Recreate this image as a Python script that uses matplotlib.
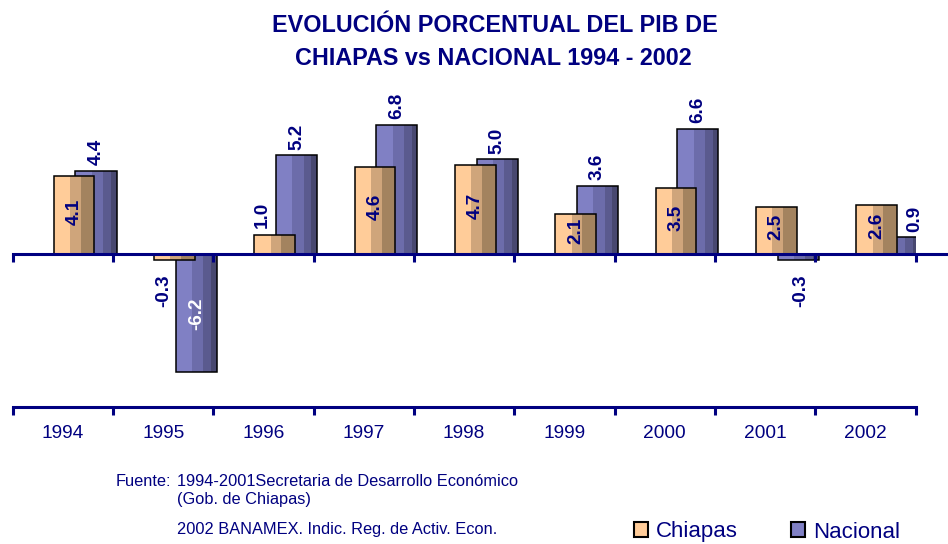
import numpy as np
import matplotlib
matplotlib.use("Agg")
import matplotlib.pyplot as plt
from matplotlib.patches import Patch

# ---- data ----
years = ['1994', '1995', '1996', '1997', '1998', '1999', '2000', '2001', '2002']
chiapas = [4.1, -0.3, 1.0, 4.6, 4.7, 2.1, 3.5, 2.5, 2.6]
nacional = [4.4, -6.2, 5.2, 6.8, 5.0, 3.6, 6.6, -0.3, 0.9]
series_names = ['Chiapas', 'Nacional']
title_lines = ['EVOLUCIÓN PORCENTUAL DEL PIB DE', 'CHIAPAS vs NACIONAL 1994 - 2002']
source_lines = ['1994-2001Secretaria de Desarrollo Económico',
                '(Gob. de Chiapas)',
                '2002 BANAMEX. Indic. Reg. de Activ. Econ.']

NAVY = '#000080'
FONT = 'Liberation Sans'
plt.rcParams['font.family'] = [FONT, 'DejaVu Sans']

W, H = 948, 544
fig = plt.figure(figsize=(W / 100, H / 100), dpi=100)
x_l, x_r, y_t, y_b = 12.7, 915.5, 102.2, 406.7
ax = fig.add_axes([x_l / W, 1 - y_b / H, (x_r - x_l) / W, (y_b - y_t) / H])
ax.set_xlim(0, len(years))
ax.set_ylim(-8, 8)

x = np.arange(len(years))
c_left, c_w = x + 0.41, 0.405
n_left, n_w = x + 0.625, 0.41

chi_bands = [(0.0, 0.40, '#FFCC99'), (0.40, 0.66, '#CFA57B'), (0.66, 1.0, '#A3835F')]
nac_bands = [(0.0, 0.40, '#8080C4'), (0.40, 0.67, '#6C6CAA'),
             (0.67, 0.86, '#5A5A8E'), (0.86, 1.0, '#484870')]


def draw_bars(left, vals, width, bands, z):
    for f0, f1, c in bands:
        ax.bar(left + f0 * width, vals, width=(f1 - f0) * width, align='edge',
               color=c, linewidth=0, zorder=z)
    ax.bar(left, vals, width=width, align='edge', fill=False,
           edgecolor='black', linewidth=1.1, zorder=z + 0.1)


draw_bars(n_left, nacional, n_w, nac_bands, 2)
draw_bars(c_left, chiapas, c_w, chi_bands, 3)

# zero line with tick marks
ax.axhline(0, xmin=0, xmax=(W - x_l) / (x_r - x_l), color=NAVY, lw=2.2,
           zorder=6, clip_on=False)
ax.plot(np.arange(len(years) + 1), np.zeros(len(years) + 1), ls='none',
        marker=3, ms=6, mew=2.2, color=NAVY, zorder=6, clip_on=False)

# bottom category axis
for s in ['top', 'right', 'left']:
    ax.spines[s].set_visible(False)
ax.spines['bottom'].set_color(NAVY)
ax.spines['bottom'].set_linewidth(2.2)
ax.set_yticks([])
ax.set_xticks(np.arange(len(years) + 1))
ax.set_xticklabels([])
ax.tick_params(axis='x', which='major', length=6, width=2.2, color=NAVY, direction='out')
ax.set_xticks(x + 0.5, minor=True)
ax.set_xticklabels(years, minor=True, fontsize=13.8, color=NAVY)
ax.tick_params(axis='x', which='minor', length=0, pad=13)

# value labels
lab_kw = dict(rotation=90, ha='center', fontsize=13.6, fontweight='bold',
              textcoords='offset points', zorder=8)
for i, v in enumerate(chiapas):
    cx = c_left[i] + c_w / 2
    if abs(v) < 1.5:
        if v >= 0:
            ax.annotate(f'{v:.1f}', (cx, v), xytext=(-9, 5), va='bottom', color=NAVY, **lab_kw)
        else:
            ax.annotate(f'{v:.1f}', (cx, v), xytext=(-8, -10), va='top', color=NAVY, **lab_kw)
    else:
        ax.annotate(f'{v:.1f}', (cx, v / 2), xytext=(0, 2.5), va='center', color=NAVY, **lab_kw)
for i, v in enumerate(nacional):
    cx = n_left[i] + n_w / 2
    if v >= 0:
        dx = 12 if chiapas[i] > v else 0
        ax.annotate(f'{v:.1f}', (cx, v), xytext=(dx, 4), va='bottom', color=NAVY, **lab_kw)
    elif v > -1.5:
        ax.annotate(f'{v:.1f}', (cx, v), xytext=(2, -10), va='top', color=NAVY, **lab_kw)
    else:
        ax.annotate(f'{v:.1f}', (cx, v / 2), xytext=(0, 0), va='center', color='white', **lab_kw)

# title
fig.text(495 / W, 1 - 32 / H, title_lines[0], ha='center', va='baseline',
         fontsize=16.8, fontweight='bold', color=NAVY)
fig.text(493 / W, 1 - 65 / H, title_lines[1], ha='center', va='baseline',
         fontsize=16.8, fontweight='bold', color=NAVY)

# source
fig.text(116 / W, 1 - 486.5 / H, 'Fuente:', ha='left', va='baseline', fontsize=11.8, color=NAVY)
for txt, yb in zip(source_lines, [486.5, 504, 534]):
    fig.text(177 / W, 1 - yb / H, txt, ha='left', va='baseline', fontsize=11.8, color=NAVY)

# legend
handles = [Patch(facecolor='#FFCC99', edgecolor='black', linewidth=1.5),
           Patch(facecolor='#8080C4', edgecolor='black', linewidth=1.5)]
leg = fig.legend(handles, series_names, loc='center left',
                 bbox_to_anchor=(634 / W, 1 - 532 / H), ncol=2, frameon=False,
                 fontsize=16, handlelength=0.62, handleheight=0.62,
                 handletextpad=0.36, columnspacing=2.4, borderpad=0, borderaxespad=0)
for t in leg.get_texts():
    t.set_color(NAVY)

fig.savefig('out.png', dpi=100)
